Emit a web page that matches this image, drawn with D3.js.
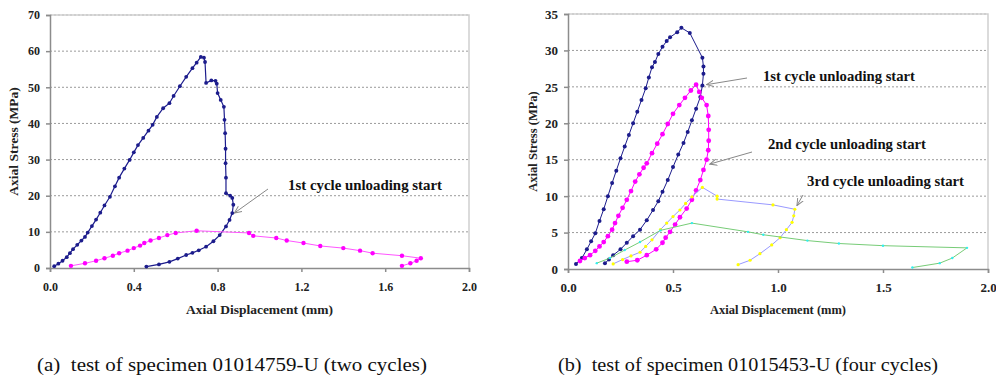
<!DOCTYPE html>
<html>
<head>
<meta charset="utf-8">
<script src="https://cdn.jsdelivr.net/npm/d3@7"></script>
<style>
  body { margin: 0; background: #fff; }
  svg { display: block; }
  svg text { font-family: "Liberation Serif", "Times New Roman", serif; }
</style>
</head>
<body>
<svg id="chart" width="996" height="378"></svg>
<script>
// ---- data: [displacement (mm), stress (MPa)] ----

// (a) specimen 01014759-U
const aCycle1 = [[0.02,0.5],[0.04,1.2],[0.06,2.0],[0.08,3.0],[0.095,4.1],[0.11,5.2],[0.13,6.4],[0.15,7.6],[0.167,8.6],[0.18,9.8],[0.2,11.6],[0.22,13.4],[0.24,15.3],[0.26,17.3],[0.286,19.7],[0.31,22.6],[0.33,25.0],[0.355,27.5],[0.38,29.9],[0.40,32.0],[0.42,34.0],[0.445,36.0],[0.47,38.0],[0.49,39.6],[0.51,41.8],[0.54,44.2],[0.57,45.6],[0.59,47.6],[0.62,50.3],[0.65,52.9],[0.68,55.3],[0.70,56.8],[0.72,58.4],[0.735,58.2],[0.74,57.0],[0.745,51.2],[0.77,51.9],[0.79,51.8],[0.796,51.0],[0.80,48.4],[0.815,46.5],[0.83,44.6],[0.833,41.0],[0.836,37.3],[0.838,33.0],[0.838,29.0],[0.84,25.0],[0.84,20.7],[0.86,20.0],[0.87,19.4],[0.875,17.5],[0.87,15.2],[0.857,13.3],[0.84,11.5],[0.81,9.1],[0.78,7.4],[0.745,5.9],[0.71,4.9],[0.68,4.2],[0.65,3.6],[0.61,2.6],[0.57,1.7],[0.52,1.0],[0.46,0.4]];
const aCycle2 = [[0.10,0.6],[0.167,1.3],[0.22,2.0],[0.26,2.7],[0.30,3.4],[0.33,4.1],[0.37,4.8],[0.40,5.5],[0.43,6.2],[0.45,6.9],[0.48,7.6],[0.52,8.3],[0.56,9.1],[0.60,9.7],[0.70,10.3],[0.95,9.7],[0.97,8.9],[1.08,8.3],[1.13,7.6],[1.21,6.9],[1.29,6.1],[1.40,5.5],[1.48,4.8],[1.54,4.1],[1.68,3.4],[1.77,2.7],[1.75,2.0],[1.72,1.3],[1.68,0.6]];

// (b) specimen 01015453-U
const bCycle1 = [[0.038,0.7],[0.066,1.5],[0.09,2.7],[0.11,3.8],[0.13,4.9],[0.15,6.6],[0.17,8.2],[0.19,10.0],[0.21,11.8],[0.23,13.5],[0.25,15.2],[0.27,16.8],[0.29,18.4],[0.31,20.0],[0.33,21.6],[0.35,23.2],[0.37,24.8],[0.385,26.3],[0.40,27.7],[0.414,28.4],[0.43,29.5],[0.45,30.5],[0.47,31.3],[0.486,31.8],[0.52,32.5],[0.54,33.1],[0.58,32.4],[0.64,29.0],[0.645,27.8],[0.645,26.8],[0.64,25.2],[0.63,23.6],[0.61,22.0],[0.59,20.4],[0.57,18.8],[0.55,17.3],[0.525,15.7],[0.50,14.0],[0.475,12.2],[0.45,10.6],[0.43,9.3],[0.405,8.1],[0.375,6.7],[0.343,5.4],[0.31,4.5],[0.28,3.6],[0.25,2.7],[0.215,1.9],[0.195,1.3],[0.176,0.8]];
const bCycle2 = [[0.057,1.1],[0.08,1.5],[0.105,1.9],[0.13,2.5],[0.15,3.1],[0.17,3.7],[0.19,4.5],[0.21,5.4],[0.224,6.3],[0.24,7.3],[0.26,8.4],[0.28,9.5],[0.30,10.7],[0.32,12.0],[0.34,13.0],[0.36,13.9],[0.375,14.5],[0.40,15.9],[0.425,17.2],[0.45,18.5],[0.475,19.9],[0.50,21.3],[0.53,22.5],[0.557,23.5],[0.585,24.5],[0.61,25.3],[0.625,24.3],[0.637,23.5],[0.66,22.5],[0.668,21.0],[0.67,19.1],[0.67,17.6],[0.668,16.3],[0.66,15.0],[0.645,13.6],[0.63,12.2],[0.61,10.8],[0.59,9.5],[0.565,8.3],[0.533,7.1],[0.51,6.1],[0.486,5.1],[0.465,4.3],[0.45,3.6],[0.42,2.7],[0.375,1.9],[0.33,1.2],[0.28,1.0]];
const bCycle3 = [[0.215,0.7],[0.26,1.3],[0.30,1.8],[0.343,2.3],[0.37,3.1],[0.40,4.0],[0.44,5.4],[0.47,6.3],[0.50,7.2],[0.533,8.1],[0.56,9.0],[0.59,9.9],[0.64,11.2],[0.71,10.0],[0.71,9.6],[0.976,8.8],[1.08,8.2],[1.075,7.3],[1.067,6.4],[1.04,5.4],[1.01,4.3],[0.97,3.3],[0.914,2.1],[0.867,1.2],[0.81,0.6]];
const bCycle4 = [[0.137,0.8],[0.2,1.5],[0.27,2.6],[0.343,3.7],[0.44,5.3],[0.59,6.3],[0.857,5.1],[0.93,4.7],[1.14,3.9],[1.29,3.5],[1.5,3.2],[1.90,2.9],[1.83,1.5],[1.77,0.8],[1.64,0.2]];

const aYTicks = [0, 10, 20, 30, 40, 50, 60, 70];
const aXTicks = [0.0, 0.4, 0.8, 1.2, 1.6, 2.0];
const bYTicks = [0, 5, 10, 15, 20, 25, 30, 35];
const bXTicks = [0.0, 0.5, 1.0, 1.5, 2.0];

const captions = ["(a)  test of specimen 01014759-U (two cycles)", "(b)  test of specimen 01015453-U (four cycles)"];

const svg = d3.select("#chart");
svg.append("rect").attr("width", 996).attr("height", 378).attr("fill", "#fff");

function drawPanel(cfg) {
  const x = d3.scaleLinear().domain([0, 2]).range([cfg.left, cfg.right]);
  const y = d3.scaleLinear().domain([0, cfg.yMax]).range([cfg.bottom, cfg.top]);
  const g = svg.append("g");

  // grid
  g.selectAll(".grid").data(cfg.yTicks.filter(d => d > 0)).enter()
    .append("line")
    .attr("x1", cfg.left).attr("x2", cfg.right)
    .attr("y1", d => y(d)).attr("y2", d => y(d))
    .attr("stroke", "#9a9a9a").attr("stroke-width", 1)
    .attr("stroke-dasharray", "2,2");

  // plot frame top / right
  g.append("path")
    .attr("d", `M${cfg.left},${cfg.top}H${cfg.right}V${cfg.bottom}`)
    .attr("fill", "none").attr("stroke", "#cfcfcf").attr("stroke-width", 1.5);

  // axes
  const xAxis = g.append("g").attr("transform", `translate(0,${cfg.bottom})`)
    .call(d3.axisBottom(x).tickValues(cfg.xTicks).tickFormat(d3.format(".1f")).tickSize(4).tickPadding(10));
  const yAxis = g.append("g").attr("transform", `translate(${cfg.left},0)`)
    .call(d3.axisLeft(y).tickValues(cfg.yTicks).tickSize(4).tickPadding(6));
  [xAxis, yAxis].forEach(ax => {
    ax.selectAll("path, line").attr("stroke", "#8c8c8c").attr("stroke-width", 1.5);
    ax.selectAll("text").attr("font-weight", "bold")
      .attr("font-size", cfg.tickSize).attr("fill", "#222");
  });

  // axis titles
  g.append("text")
    .attr("x", (cfg.left + cfg.right) / 2).attr("y", cfg.xTitleY)
    .attr("text-anchor", "middle").attr("font-weight", "bold").attr("font-size", cfg.titleSize)
    .attr("fill", "#222").text("Axial Displacement (mm)");
  g.append("text")
    .attr("transform", `translate(${cfg.yTitleX},${(cfg.top + cfg.bottom) / 2}) rotate(-90)`)
    .attr("text-anchor", "middle").attr("font-weight", "bold").attr("font-size", cfg.titleSize)
    .attr("fill", "#222").text("Axial Stress (MPa)");

  // series
  const line = d3.line().x(d => x(d[0])).y(d => y(d[1]));
  cfg.series.forEach(s => {
    g.append("path").datum(s.data).attr("d", line)
      .attr("fill", "none").attr("stroke", s.line).attr("stroke-width", s.lw || 1);
    g.selectAll(null).data(s.data).enter().append("circle")
      .attr("cx", d => x(d[0])).attr("cy", d => y(d[1]))
      .attr("r", s.r).attr("fill", s.dot);
  });

  // annotations
  cfg.notes.forEach(n => {
    g.append("line")
      .attr("x1", n.from[0]).attr("y1", n.from[1])
      .attr("x2", x(n.at[0])).attr("y2", y(n.at[1]))
      .attr("stroke", "#888").attr("stroke-width", 1)
      .attr("marker-end", "url(#arrow)");
    g.append("text").attr("x", n.tx).attr("y", n.ty)
      .attr("font-weight", "bold").attr("font-size", 14).attr("fill", "#111")
      .attr("textLength", n.w).attr("lengthAdjust", "spacingAndGlyphs").text(n.text);
  });

  svg.append("text").attr("x", cfg.capX).attr("y", 371)
    .attr("font-size", 19).attr("fill", "#111")
    .attr("xml:space", "preserve").style("white-space", "pre")
    .attr("textLength", cfg.capW).attr("lengthAdjust", "spacingAndGlyphs")
    .text(cfg.caption);
}

svg.append("defs").append("marker")
  .attr("id", "arrow").attr("viewBox", "0 0 10 10").attr("refX", 9).attr("refY", 5)
  .attr("markerWidth", 8).attr("markerHeight", 8).attr("orient", "auto")
  .append("path").attr("d", "M0,1L9,5L0,9").attr("fill", "none").attr("stroke", "#888").attr("stroke-width", 1.2);

drawPanel({
  left: 50, right: 469, top: 15, bottom: 268, yMax: 70,
  yTicks: aYTicks, xTicks: aXTicks, tickSize: 12, titleSize: 13.5,
  xTitleY: 314, yTitleX: 18,
  series: [
    { data: aCycle1, line: "#1c1c8c", dot: "#1c1c8c", r: 1.9, lw: 1.2 },
    { data: aCycle2, line: "#ff55ff", dot: "#ff00ff", r: 2.2 }
  ],
  notes: [
    { text: "1st cycle unloading start", tx: 288, ty: 190, w: 154, from: [268, 189], at: [0.88, 15.2] }
  ],
  caption: captions[0], capX: 37, capW: 390
});

drawPanel({
  left: 568, right: 988, top: 14, bottom: 269, yMax: 35,
  yTicks: bYTicks, xTicks: bXTicks, tickSize: 13, titleSize: 12.5,
  xTitleY: 314, yTitleX: 537,
  series: [
    { data: bCycle1, line: "#1c1c8c", dot: "#1c1c8c", r: 2, lw: 1 },
    { data: bCycle2, line: "#ff00ff", dot: "#ff00ff", r: 2.4 },
    { data: bCycle3, line: "#9999ff", dot: "#ffff00", r: 1.6 },
    { data: bCycle4, line: "#77cc77", dot: "#33eeee", r: 1.2 }
  ],
  notes: [
    { text: "1st cycle unloading start", tx: 763, ty: 81, w: 152, from: [747, 78], at: [0.66, 25.3] },
    { text: "2nd cycle unloading start", tx: 768, ty: 149, w: 158, from: [752, 152], at: [0.675, 14.4] },
    { text: "3rd cycle unloading start", tx: 807, ty: 186, w: 157, from: [803, 195], at: [1.09, 8.7] }
  ],
  caption: captions[1], capX: 558, capW: 380
});
</script>
</body>
</html>
